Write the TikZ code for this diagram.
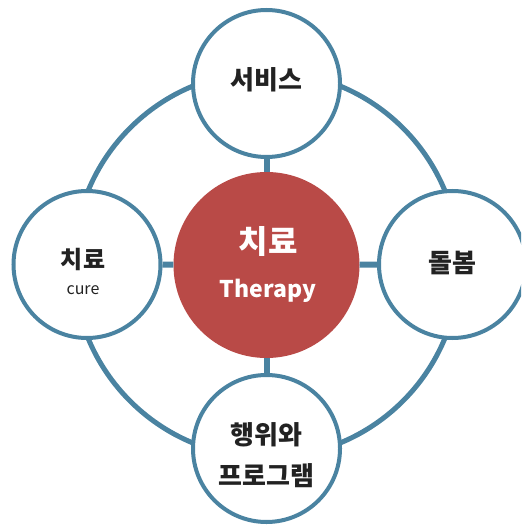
\documentclass[tikz,border=0pt]{standalone}
\usepackage{fontspec}
\newfontfamily\kr{Noto Sans CJK KR}
\definecolor{ringblue}{HTML}{4A83A1}
\definecolor{corered}{HTML}{B94A47}
\definecolor{txtdark}{HTML}{222222}
\begin{document}
\begin{tikzpicture}[x=1pt,y=-1pt,
  outer/.style={circle, draw=ringblue, line width=4pt, fill=white, minimum size=147pt, inner sep=0pt},
  core/.style={circle, fill=corered, minimum size=186pt, inner sep=0pt},
  link/.style={draw=ringblue, line width=6pt},
  lbl/.style={font=\kr\bfseries, text=txtdark, inner sep=0pt}]
\useasboundingbox (0,0) rectangle (521,526);
\clip (0,0) rectangle (521,526);
\draw[ringblue, line width=5pt] (266.5,264.5) circle[radius=193];
\node[core] (c) at (266.5,265) {};
\node[outer] (top) at (266.5,83.5) {};
\node[outer] (left) at (87,264.5) {};
\node[outer] (right) at (452.5,264.5) {};
\node[outer] (bot) at (266.5,448.5) {};
\draw[link] (c) -- (top);
\draw[link] (c) -- (left);
\draw[link] (c) -- (right);
\draw[link] (c) -- (bot);
\node[lbl, font=\kr\bfseries\fontsize{26}{30}\selectfont] (t1) at (266.7,80) {서비스};
\node[lbl, font=\kr\bfseries\fontsize{32}{36}\selectfont, text=white] (t2) at (268,241) {치료};
\node[lbl, font=\kr\bfseries\fontsize{23}{28}\selectfont, text=white, anchor=base] (t3) at (268,297) {Therapy};
\node[lbl, font=\kr\fontsize{16}{19}\selectfont, anchor=base] (t5) at (83,294) {cure};
\node[lbl, font=\kr\bfseries\fontsize{24}{28}\selectfont] (t4) at (83,259) {치료};
\node[lbl, font=\kr\bfseries\fontsize{26}{30}\selectfont] (t6) at (452,263) {돌봄};
\node[lbl, font=\kr\bfseries\fontsize{26}{30}\selectfont] (t7) at (266.7,435) {행위와};
\node[lbl, font=\kr\bfseries\fontsize{26}{30}\selectfont] (t8) at (266.7,476) {프로그램};
\end{tikzpicture}
\end{document}
